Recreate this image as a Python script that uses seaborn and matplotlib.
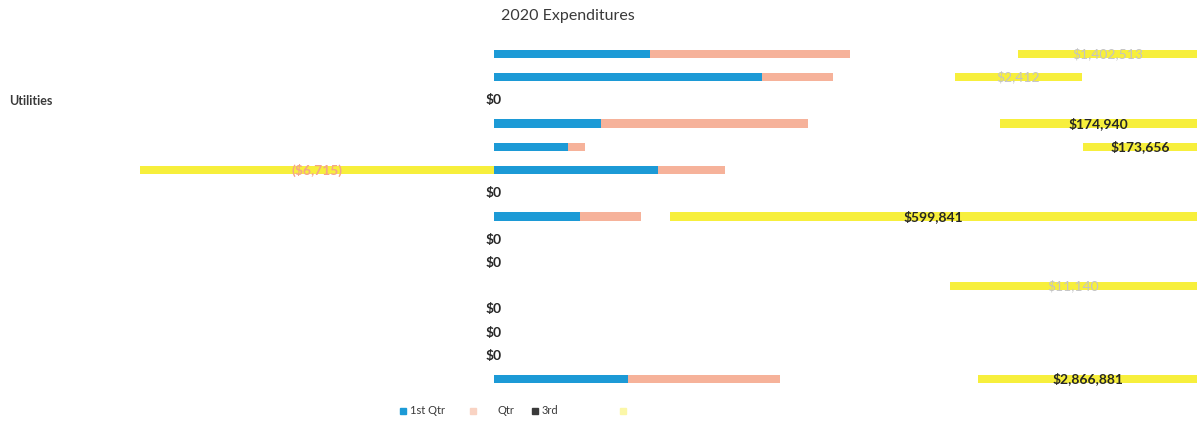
import numpy as np
import pandas as pd
import matplotlib
matplotlib.use("Agg")
import matplotlib.pyplot as plt
from matplotlib.patches import Rectangle
import seaborn as sns

# Expenditure lines (most line names are not legible on the printout)
categories = ["", "", "Utilities", "", "", "", "", "", "", "", "", "", "", "", ""]
quarters = ["1st Qtr", "2nd Qtr", "3rd Qtr", "4th Qtr"]
q1 = [2959, 5084, 0, 2030, 1404, 3111, 0, 1631, 0, 0, 0, 0, 0, 0, 2542]
q2 = [3794, 1347, 0, 3927, 322, 1271, 0, 1157, 0, 0, 0, 0, 0, 0, 2883]
q3 = [3187, 2314, 0, 3642, 9447, 0, 0, 550, 0, 0, 8650, 0, 0, 0, 3756]
q4 = [1402513, 2412, 0, 174940, 173656, -6715, 0, 599841, 0, 0, 11140, 0, 0, 0, 2866881]

colors = ["#1c9ad6", "#f6b29a", "#ffffff", "#f7ef3c"]
legend_colors = ["#1c9ad6", "#f9d3c3", "#3a3a3a", "#fbf7a8"]

sns.set_theme(style="white")
plt.rcParams["font.family"] = ["Lato", "DejaVu Sans"]

fig = plt.figure(figsize=(12.04, 4.25), dpi=100)
ax = fig.add_axes([62 / 1204, 1 - 390.6 / 425, (1197 - 62) / 1204, 348.2 / 425])

pos = np.arange(len(categories))
a1, a2, a3, a4 = (np.array(s, dtype=float) for s in (q1, q2, q3, q4))
lefts = [np.zeros_like(a1), a1, a1 + a2, np.where(a4 >= 0, a1 + a2 + a3, 0.0)]

for vals, left, col in zip((a1, a2, a3, a4), lefts, colors):
    df = pd.DataFrame({"pos": pos, "value": vals})
    sns.barplot(data=df, x="value", y="pos", orient="y", left=left,
                color=col, saturation=1, width=0.36, errorbar=None,
                linewidth=0, ax=ax)

xmin, xmax = -8195, 13336
ax.set_xlim(xmin, xmax)
ax.set_ylim(len(categories) - 0.5, -0.5)

ax.set_yticks(pos)
ax.set_yticklabels(categories, fontsize=9, color="#3a3a3a", fontweight="bold")
ax.tick_params(axis="y", length=0, pad=7)
ax.set_xticks([])
ax.set_xlabel("")
ax.set_ylabel("")
for s in ax.spines.values():
    s.set_visible(False)


def money(v):
    s = f"${abs(v):,.0f}"
    return f"({s})" if v < 0 else s


# Value labels on the 4th quarter segment
faint_rows = {0, 1, 10}
for i, (v, left) in enumerate(zip(a4, lefts[3])):
    if v == 0:
        xc = 0
    else:
        lo, hi = sorted((left, left + v))
        lo, hi = max(lo, xmin), min(hi, xmax)
        xc = (lo + hi) / 2
    if v < 0:
        col = "#f4a58a"
    elif i in faint_rows:
        col = "#c4c4c4"
    else:
        col = "#262626"
    ax.text(xc, i, money(v), ha="center", va="center", fontsize=10,
            fontweight="bold" if i not in faint_rows else "normal", color=col)

fig.text(568 / 1204, 1 - 16 / 425, "2020 Expenditures", ha="center", va="center",
         fontsize=11.5, color="#3a3a3a")

# Legend
legend_items = [(400, legend_colors[0], "1st Qtr"), (470, legend_colors[1], ""),
                (497, None, "Qtr"), (532, legend_colors[2], "3rd"),
                (620, legend_colors[3], "")]
ly = 1 - 411 / 425
for x, col, txt in legend_items:
    tx = x
    if col is not None:
        fig.patches.append(Rectangle((x / 1204, ly - 3 / 425), 6 / 1204, 6 / 425,
                                     transform=fig.transFigure, color=col))
        tx = x + 10
    if txt:
        fig.text(tx / 1204, ly, txt, ha="left", va="center", fontsize=8, color="#3a3a3a")

fig.savefig("out.png", dpi=100)
